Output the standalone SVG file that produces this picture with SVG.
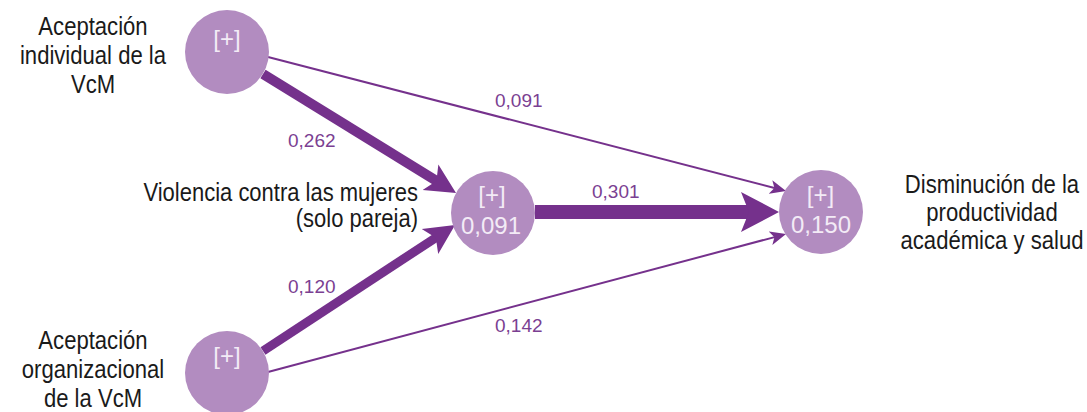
<svg xmlns="http://www.w3.org/2000/svg" width="1087" height="412" viewBox="0 0 1087 412">
<style>
.node{fill:#b28cc0;}
.nt{font-family:"Liberation Sans",Arial,sans-serif;font-size:24px;fill:#f3ebf6;text-anchor:middle;}
.lbl{font-family:"Liberation Sans",Arial,sans-serif;font-size:26px;fill:#1a1a1a;}
.lbl2{font-family:"Liberation Sans",Arial,sans-serif;font-size:25px;fill:#1a1a1a;}
.el{font-family:"Liberation Sans",Arial,sans-serif;font-size:19px;fill:#7b3f92;}
.edge{stroke:#75318c;fill:none;stroke-linecap:butt;}
</style>
<defs>
<marker id="thin" viewBox="0 -8 16 16" refX="8" refY="0" markerWidth="16" markerHeight="16" markerUnits="userSpaceOnUse" orient="auto">
<path d="M0,-7 L16,0 L0,7 L4,0 z" fill="#75318c"/>
</marker>
<marker id="thick" viewBox="0 -16 30 32" refX="12" refY="0" markerWidth="30" markerHeight="32" markerUnits="userSpaceOnUse" orient="auto">
<path d="M0,-15 L30,0 L0,15 L7,0 z" fill="#75318c"/>
</marker>
<marker id="big" viewBox="0 -21 38 42" refX="14" refY="0" markerWidth="38" markerHeight="42" markerUnits="userSpaceOnUse" orient="auto">
<path d="M0,-20 L38,0 L0,20 L8,0 z" fill="#75318c"/>
</marker>
</defs>
<g id="connectors">
<line class="edge" x1="268" y1="57" x2="778.3" y2="189" stroke-width="2" marker-end="url(#thin)"/>
<line class="edge" x1="268" y1="372" x2="778.3" y2="236.1" stroke-width="2" marker-end="url(#thin)"/>
<line class="edge" x1="263" y1="74" x2="440.7" y2="183.5" stroke-width="10" marker-end="url(#thick)"/>
<line class="edge" x1="263" y1="351" x2="440" y2="234.9" stroke-width="9" marker-end="url(#thick)"/>
<line class="edge" x1="535" y1="212" x2="755" y2="212" stroke-width="14" marker-end="url(#big)"/>
<text class="el" x="288" y="147">0,262</text>
<text class="el" x="288" y="293">0,120</text>
<text class="el" x="495" y="107">0,091</text>
<text class="el" x="495" y="332">0,142</text>
<text class="el" x="592" y="198">0,301</text>
</g>
<g id="n-aceptacion-individual">
<circle class="node" cx="227" cy="52" r="42"/>
<text class="nt" x="227" y="47">[+]</text>
<g transform="translate(93,0) scale(0.85,1)">
<text class="lbl" text-anchor="middle"><tspan x="0" y="35">Aceptación</tspan><tspan x="0" y="64">individual de la</tspan><tspan x="0" y="93">VcM</tspan></text>
</g>
</g>
<g id="n-aceptacion-organizacional">
<circle class="node" cx="227" cy="373" r="42"/>
<text class="nt" x="227" y="364">[+]</text>
<g transform="translate(93,0) scale(0.85,1)">
<text class="lbl" text-anchor="middle"><tspan x="0" y="349">Aceptación</tspan><tspan x="0" y="378">organizacional</tspan><tspan x="0" y="407">de la VcM</tspan></text>
</g>
</g>
<g id="n-violencia">
<circle class="node" cx="493" cy="213" r="42"/>
<text class="nt" x="492" y="203">[+]</text>
<text class="nt" x="491" y="234">0,091</text>
<g transform="translate(418,0) scale(0.88,1)">
<text class="lbl2" text-anchor="end"><tspan x="0" y="201">Violencia contra las mujeres</tspan><tspan x="0" y="227">(solo pareja)</tspan></text>
</g>
</g>
<g id="n-disminucion">
<circle class="node" cx="821" cy="212" r="42"/>
<text class="nt" x="820.5" y="203">[+]</text>
<text class="nt" x="821" y="233">0,150</text>
<g transform="translate(992,0) scale(0.85,1)">
<text class="lbl" text-anchor="middle"><tspan x="0" y="193">Disminución de la</tspan><tspan x="0" y="221">productividad</tspan><tspan x="0" y="249">académica y salud</tspan></text>
</g>
</g>
</svg>
